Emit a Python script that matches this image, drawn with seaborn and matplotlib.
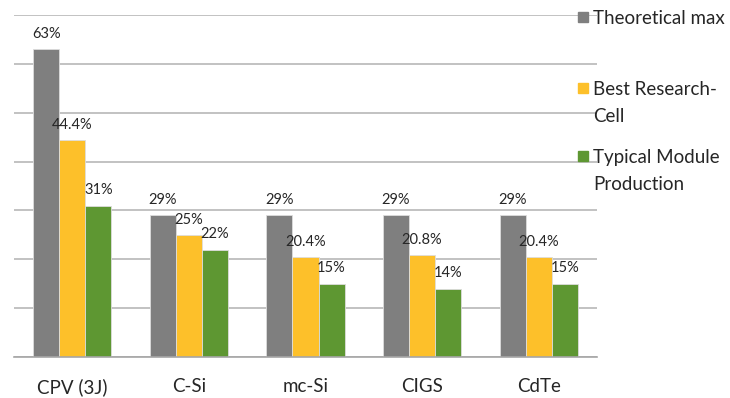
import matplotlib
matplotlib.use("Agg")
import matplotlib.pyplot as plt
from matplotlib.patches import Rectangle
import seaborn as sns
import pandas as pd

categories = ["CPV (3J)", "C-Si", "mc-Si", "CIGS", "CdTe"]
series = ["Theoretical max", "Best Research-\nCell", "Typical Module\nProduction"]
theoretical_max = [63, 29, 29, 29, 29]
best_research_cell = [44.4, 25, 20.4, 20.8, 20.4]
typical_module = [31, 22, 15, 14, 15]
value_labels = [
    ["63%", "29%", "29%", "29%", "29%"],
    ["44.4%", "25%", "20.4%", "20.8%", "20.4%"],
    ["31%", "22%", "15%", "14%", "15%"],
]
colors = ["#7F7F7F", "#FDC02A", "#5E9732"]

rows = []
for s, vals in zip(series, [theoretical_max, best_research_cell, typical_module]):
    for c, v in zip(categories, vals):
        rows.append({"category": c, "series": s, "value": v})
df = pd.DataFrame(rows)

sns.set_style("white")
plt.rcParams["font.family"] = ["Lato", "DejaVu Sans"]

fig = plt.figure(figsize=(7.3, 3.98), dpi=100)
ax = fig.add_axes([14 / 730, 1 - 357 / 398, (597 - 14) / 730, (357 - 15) / 398])

sns.barplot(data=df, x="category", y="value", hue="series", order=categories,
            hue_order=series, palette=colors, width=0.67, gap=0,
            saturation=1, legend=False, ax=ax, linewidth=0.6, edgecolor="#dddddd")

ax.set_xlim(-0.5, 4.5)
ax.set_ylim(0, 70)
ax.set_yticks(range(0, 71, 10))
ax.set_yticklabels([])
ax.tick_params(axis="y", length=0)
ax.yaxis.grid(True, color="#BDBDBD", linewidth=1.3)
ax.set_axisbelow(True)
for side in ["left", "right", "top"]:
    ax.spines[side].set_visible(False)
ax.spines["bottom"].set_color("#A6A6A6")
ax.spines["bottom"].set_linewidth(1.2)

# category separators below the baseline
ax.set_xticks([i - 0.5 for i in range(len(categories) + 1)], minor=True)
ax.tick_params(axis="x", which="minor", length=7, width=1, color="#A6A6A6")
ax.tick_params(axis="x", which="major", length=0, labelsize=13.5, pad=15,
               labelcolor="#262626")
ax.set_xlabel("")
ax.set_ylabel("")

# value labels above each bar
for container, labels in zip(ax.containers, value_labels):
    ax.bar_label(container, labels=labels, padding=6, fontsize=10.5, color="#262626")

# legend to the right of the plot
legend_items = [(series[0], 17), (series[1], 88), (series[2], 156)]
for (text, yline), col in zip(legend_items, colors):
    fig.add_artist(Rectangle((578 / 730, 1 - (yline + 5) / 398), 10 / 730, 10 / 398,
                             transform=fig.transFigure, color=col))
    fig.text(593 / 730, 1 - (yline - 7) / 398, text, fontsize=13.5, va="top",
             ha="left", color="#262626", linespacing=1.75)

fig.savefig("out.png", dpi=100)
